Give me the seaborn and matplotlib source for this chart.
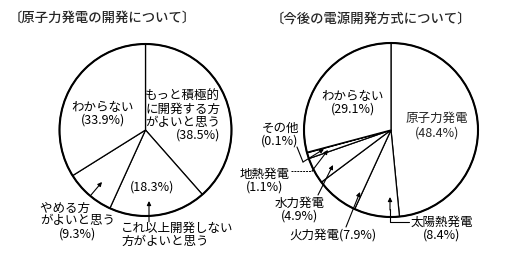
import matplotlib
matplotlib.use("Agg")
import matplotlib.pyplot as plt
import seaborn as sns

# ---- data ----
left_title = "〔原子力発電の開発について〕"
left_labels = ["もっと積極的\nに開発する方\nがよいと思う", "これ以上開発しない\n方がよいと思う",
               "やめる方　　\nがよいと思う", "わからない"]
left_values = [38.5, 18.3, 9.3, 33.9]

right_title = "〔今後の電源開発方式について〕"
right_labels = ["原子力発電", "太陽熱発電", "火力発電", "水力発電", "地熱発電", "その他", "わからない"]
right_values = [48.4, 8.4, 7.9, 4.9, 1.1, 0.1, 29.1]

sns.set_theme(style="white")
plt.rcParams["font.family"] = ["Noto Sans CJK JP", "DejaVu Sans"]

W, H = 505, 255
fig = plt.figure(figsize=(W / 100, H / 100), dpi=100)
ax = fig.add_axes([0, 0, 1, 1])


def P(x, y):
    return (x, H - y)


def pct(v):
    return f"({v:.1f}%)"


FS = 9.0
wp = dict(edgecolor="black", linewidth=0.9, facecolor="white")

# ---- pies ----
lc, lr = (145.5, 131), 86
rc, rr = (391, 131), 87
ax.pie(left_values, startangle=90, counterclock=False, center=P(*lc), radius=lr,
       colors=["white"] * len(left_values), wedgeprops=wp, frame=True)
ax.pie(right_values, startangle=90, counterclock=False, center=P(*rc), radius=rr,
       colors=["white"] * len(right_values), wedgeprops=wp, frame=True)
for c, r in [(lc, lr), (rc, rr)]:
    ax.add_patch(plt.Circle(P(*c), r, fill=False, edgecolor="black", linewidth=1.5))

ax.set_xlim(0, W)
ax.set_ylim(0, H)
ax.set_aspect("equal")
ax.axis("off")

# ---- titles ----
TT = dict(ha="left", va="center", fontsize=9.6, fontweight="medium")
ax.text(*P(9, 18), left_title, **TT)
ax.text(*P(271, 19), right_title, **TT)

T = dict(fontsize=FS, color="black", linespacing=1.0)

# ---- left labels ----
ax.text(*P(220, 116), left_labels[0] + "\n" + pct(left_values[0]),
        ha="right", va="center", multialignment="right", **T)
ax.text(*P(103, 114), left_labels[3] + "\n" + pct(left_values[3]),
        ha="center", va="center", multialignment="center", **T)
ax.text(*P(152, 187), pct(left_values[1]), ha="center", va="center", **T)
ax.text(*P(40, 221), left_labels[2] + "\n" + pct(left_values[2]),
        ha="left", va="center", multialignment="center", **T)
ax.text(*P(121, 234.5), left_labels[1], ha="left", va="center",
        multialignment="left", **T)

AP = dict(arrowstyle="-|>", color="black", lw=0.8, mutation_scale=6,
          shrinkA=0, shrinkB=0)
ax.annotate("", xy=P(102, 183), xytext=P(91, 196), arrowprops=AP)
ax.annotate("", xy=P(149, 202), xytext=P(149, 223), arrowprops=AP)

# ---- right labels ----
ax.text(*P(353, 103), right_labels[6] + "\n" + pct(right_values[6]),
        ha="center", va="center", multialignment="center", **T)
ax.text(*P(437, 125.5), right_labels[0] + "\n" + pct(right_values[0]),
        ha="center", va="center", multialignment="center", fontsize=FS,
        linespacing=1.15)
ax.text(*P(280, 135), right_labels[5] + "\n" + pct(right_values[5]),
        ha="center", va="center", multialignment="center", **T)
ax.text(*P(265, 180.5), right_labels[4] + "\n" + pct(right_values[4]),
        ha="center", va="center", multialignment="center", **T)
ax.text(*P(300, 209.5), right_labels[3] + "\n" + pct(right_values[3]),
        ha="center", va="center", multialignment="center", **T)
ax.text(*P(289, 235), right_labels[2] + pct(right_values[2]),
        ha="left", va="center", **T)
ax.text(*P(442, 229), right_labels[1] + "\n" + pct(right_values[1]),
        ha="center", va="center", multialignment="center", **T)

LN = dict(color="black", lw=0.8)
# その他
ax.plot(*zip(P(297, 148), P(303, 163)), **LN)
ax.annotate("", xy=P(324, 150), xytext=P(303, 163), arrowprops=AP)
# 地熱発電
ax.plot(*zip(P(291, 172), P(312, 172)), color="black", lw=0.7, ls=(0, (2, 1)))
ax.annotate("", xy=P(328, 151), xytext=P(312, 172), arrowprops=AP)
# 水力発電
ax.annotate("", xy=P(333, 166), xytext=P(318, 196), arrowprops=AP)
# 火力発電
ax.annotate("", xy=P(360, 193), xytext=P(346, 228), arrowprops=AP)
# 太陽熱発電
ax.plot(*zip(P(409, 223), P(390, 223), P(390, 210)), **LN)
ax.annotate("", xy=P(390, 198), xytext=P(390, 211), arrowprops=AP)

fig.savefig("out.png", dpi=100, facecolor="white")
